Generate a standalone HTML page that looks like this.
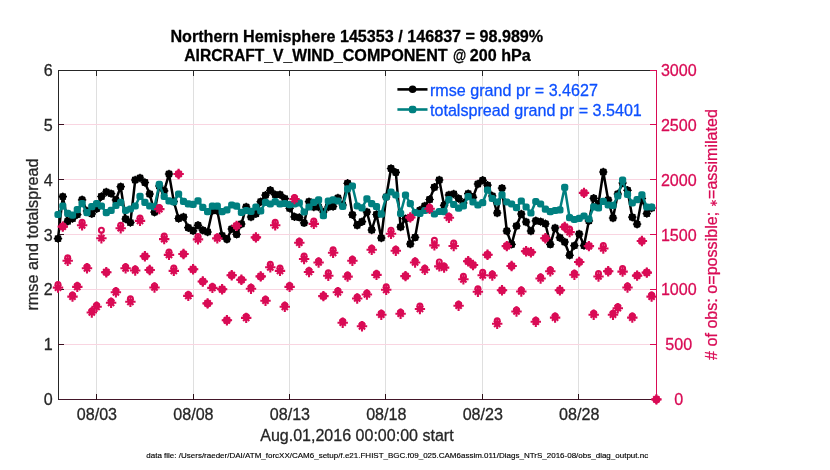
<!DOCTYPE html>
<html><head><meta charset="utf-8"><title>AIRCRAFT_V_WIND_COMPONENT</title>
<style>html,body{margin:0;padding:0;background:#fff}svg{display:block}text{font-family:"Liberation Sans","DejaVu Sans",sans-serif;font-size:16.12px;stroke-width:.28px;stroke-linejoin:round}.d{fill:#262626;stroke:#262626}.p{fill:#d90b55;stroke:#d90b55}.b{fill:#0d50ff;stroke:#0d50ff}.k{fill:#000;stroke:#000}</style></head><body>
<svg width="830" height="470" viewBox="0 0 830 470">
<rect width="830" height="470" fill="#fff"/>
<g shape-rendering="crispEdges" stroke-width="1">
<line x1="96.5" y1="70.5" x2="96.5" y2="399.5" stroke="#dfdfdf"/>
<line x1="193.5" y1="70.5" x2="193.5" y2="399.5" stroke="#dfdfdf"/>
<line x1="289.5" y1="70.5" x2="289.5" y2="399.5" stroke="#dfdfdf"/>
<line x1="385.5" y1="70.5" x2="385.5" y2="399.5" stroke="#dfdfdf"/>
<line x1="482.5" y1="70.5" x2="482.5" y2="399.5" stroke="#dfdfdf"/>
<line x1="578.5" y1="70.5" x2="578.5" y2="399.5" stroke="#dfdfdf"/>
<line x1="58.5" y1="124.5" x2="656.5" y2="124.5" stroke="#f9d5e1"/>
<line x1="58.5" y1="179.5" x2="656.5" y2="179.5" stroke="#f9d5e1"/>
<line x1="58.5" y1="234.5" x2="656.5" y2="234.5" stroke="#f9d5e1"/>
<line x1="58.5" y1="289.5" x2="656.5" y2="289.5" stroke="#f9d5e1"/>
<line x1="58.5" y1="344.5" x2="656.5" y2="344.5" stroke="#f9d5e1"/>
<line x1="58.5" y1="70.0" x2="58.5" y2="400.0" stroke="#262626"/>
<line x1="58.5" y1="70.5" x2="656.5" y2="70.5" stroke="#262626"/>
<line x1="58.5" y1="399.5" x2="656.5" y2="399.5" stroke="#431629"/>
<rect x="96.0" y="70" width="1" height="6" fill="#262626"/>
<rect x="96.0" y="394" width="1" height="6" fill="#2a1018"/>
<rect x="193.0" y="70" width="1" height="6" fill="#262626"/>
<rect x="193.0" y="394" width="1" height="6" fill="#2a1018"/>
<rect x="289.0" y="70" width="1" height="6" fill="#262626"/>
<rect x="289.0" y="394" width="1" height="6" fill="#2a1018"/>
<rect x="385.0" y="70" width="1" height="6" fill="#262626"/>
<rect x="385.0" y="394" width="1" height="6" fill="#2a1018"/>
<rect x="482.0" y="70" width="1" height="6" fill="#262626"/>
<rect x="482.0" y="394" width="1" height="6" fill="#2a1018"/>
<rect x="578.0" y="70" width="1" height="6" fill="#262626"/>
<rect x="578.0" y="394" width="1" height="6" fill="#2a1018"/>
<rect x="58" y="124.0" width="6" height="1" fill="#3a0f20"/>
<rect x="58" y="179.0" width="6" height="1" fill="#3a0f20"/>
<rect x="58" y="234.0" width="6" height="1" fill="#3a0f20"/>
<rect x="58" y="289.0" width="6" height="1" fill="#3a0f20"/>
<rect x="58" y="344.0" width="6" height="1" fill="#3a0f20"/>
<line x1="656.5" y1="70.0" x2="656.5" y2="400.0" stroke="#d90b55"/>
<rect x="650" y="70.0" width="7" height="1" fill="#d90b55"/>
<rect x="650" y="124.0" width="7" height="1" fill="#d90b55"/>
<rect x="650" y="179.0" width="7" height="1" fill="#d90b55"/>
<rect x="650" y="234.0" width="7" height="1" fill="#d90b55"/>
<rect x="650" y="289.0" width="7" height="1" fill="#d90b55"/>
<rect x="650" y="344.0" width="7" height="1" fill="#d90b55"/>
</g>
<g fill="none" stroke="#000" stroke-width="2.5" stroke-linejoin="round"><path d="M58.0,238.6 L62.8,196.6 L67.7,221.3 L72.5,218.6 L77.3,214.6 L82.1,199.8 L87.0,211.0 L91.8,213.8 L96.6,208.7 L101.4,196.5 L106.3,192.0 L111.1,193.6 L115.9,200.0 L120.7,186.7 L125.6,219.0 L130.4,222.6 L135.2,180.0 L140.0,178.0 L144.9,182.5 L149.7,194.0 L154.5,212.2 L159.3,186.0 L164.2,190.8 L169.0,174.0 L173.8,201.5 L178.6,218.5 L183.5,217.0 L188.3,227.7 L193.1,230.8 L198.0,225.3 L202.8,230.2 L207.6,232.0 L212.4,210.8 L217.3,210.8 L222.1,235.6 L226.9,239.2 L231.7,229.0 L236.6,234.4 L241.4,224.0 L246.2,207.0 L251.0,217.0 L255.9,213.8 L260.7,201.7 L265.5,195.2 L270.3,190.3 L275.2,194.6 L280.0,194.6 L284.8,198.6 L289.6,208.3 L294.5,216.8 L299.3,217.4 L304.1,222.9 L309.0,201.7 L313.8,207.0 L318.6,207.0 L323.4,212.0 L328.3,207.0 L333.1,206.5 L337.9,198.0 L342.7,205.0 L347.6,183.3 L352.4,214.8 L357.2,225.3 L362.0,221.7 L366.9,212.0 L371.7,230.0 L376.5,214.5 L381.3,238.0 L386.2,197.0 L391.0,168.5 L395.8,172.4 L400.6,227.0 L405.5,218.6 L410.3,244.0 L415.1,237.4 L419.9,210.3 L424.8,206.0 L429.6,199.5 L434.4,187.3 L439.3,180.0 L444.1,205.4 L448.9,195.0 L453.7,194.0 L458.6,198.5 L463.4,203.0 L468.2,193.6 L473.0,197.3 L477.9,184.0 L482.7,180.3 L487.5,185.2 L492.3,196.0 L497.2,213.0 L502.0,188.2 L506.8,231.0 L511.6,244.4 L516.5,226.0 L521.3,214.0 L526.1,222.0 L530.9,231.0 L535.8,220.8 L540.6,221.6 L545.4,223.8 L550.3,244.4 L555.1,228.0 L559.9,237.7 L564.7,242.0 L569.6,255.3 L574.4,245.6 L579.2,234.0 L584.0,245.6 L588.9,220.8 L593.7,198.3 L598.5,203.8 L603.3,172.0 L608.2,200.0 L613.0,218.0 L617.8,194.0 L622.6,183.0 L627.5,190.3 L632.3,217.2 L637.1,224.2 L641.9,198.5 L646.8,213.6 L651.6,208.0"/></g>
<g fill="#000" stroke="#000" stroke-width="1.2"><circle cx="58.0" cy="238.6" r="3.1"/><circle cx="62.8" cy="196.6" r="3.1"/><circle cx="67.7" cy="221.3" r="3.1"/><circle cx="72.5" cy="218.6" r="3.1"/><circle cx="77.3" cy="214.6" r="3.1"/><circle cx="82.1" cy="199.8" r="3.1"/><circle cx="87.0" cy="211.0" r="3.1"/><circle cx="91.8" cy="213.8" r="3.1"/><circle cx="96.6" cy="208.7" r="3.1"/><circle cx="101.4" cy="196.5" r="3.1"/><circle cx="106.3" cy="192.0" r="3.1"/><circle cx="111.1" cy="193.6" r="3.1"/><circle cx="115.9" cy="200.0" r="3.1"/><circle cx="120.7" cy="186.7" r="3.1"/><circle cx="125.6" cy="219.0" r="3.1"/><circle cx="130.4" cy="222.6" r="3.1"/><circle cx="135.2" cy="180.0" r="3.1"/><circle cx="140.0" cy="178.0" r="3.1"/><circle cx="144.9" cy="182.5" r="3.1"/><circle cx="149.7" cy="194.0" r="3.1"/><circle cx="154.5" cy="212.2" r="3.1"/><circle cx="159.3" cy="186.0" r="3.1"/><circle cx="164.2" cy="190.8" r="3.1"/><circle cx="169.0" cy="174.0" r="3.1"/><circle cx="173.8" cy="201.5" r="3.1"/><circle cx="178.6" cy="218.5" r="3.1"/><circle cx="183.5" cy="217.0" r="3.1"/><circle cx="188.3" cy="227.7" r="3.1"/><circle cx="193.1" cy="230.8" r="3.1"/><circle cx="198.0" cy="225.3" r="3.1"/><circle cx="202.8" cy="230.2" r="3.1"/><circle cx="207.6" cy="232.0" r="3.1"/><circle cx="212.4" cy="210.8" r="3.1"/><circle cx="217.3" cy="210.8" r="3.1"/><circle cx="222.1" cy="235.6" r="3.1"/><circle cx="226.9" cy="239.2" r="3.1"/><circle cx="231.7" cy="229.0" r="3.1"/><circle cx="236.6" cy="234.4" r="3.1"/><circle cx="241.4" cy="224.0" r="3.1"/><circle cx="246.2" cy="207.0" r="3.1"/><circle cx="251.0" cy="217.0" r="3.1"/><circle cx="255.9" cy="213.8" r="3.1"/><circle cx="260.7" cy="201.7" r="3.1"/><circle cx="265.5" cy="195.2" r="3.1"/><circle cx="270.3" cy="190.3" r="3.1"/><circle cx="275.2" cy="194.6" r="3.1"/><circle cx="280.0" cy="194.6" r="3.1"/><circle cx="284.8" cy="198.6" r="3.1"/><circle cx="289.6" cy="208.3" r="3.1"/><circle cx="294.5" cy="216.8" r="3.1"/><circle cx="299.3" cy="217.4" r="3.1"/><circle cx="304.1" cy="222.9" r="3.1"/><circle cx="309.0" cy="201.7" r="3.1"/><circle cx="313.8" cy="207.0" r="3.1"/><circle cx="318.6" cy="207.0" r="3.1"/><circle cx="323.4" cy="212.0" r="3.1"/><circle cx="328.3" cy="207.0" r="3.1"/><circle cx="333.1" cy="206.5" r="3.1"/><circle cx="337.9" cy="198.0" r="3.1"/><circle cx="342.7" cy="205.0" r="3.1"/><circle cx="347.6" cy="183.3" r="3.1"/><circle cx="352.4" cy="214.8" r="3.1"/><circle cx="357.2" cy="225.3" r="3.1"/><circle cx="362.0" cy="221.7" r="3.1"/><circle cx="366.9" cy="212.0" r="3.1"/><circle cx="371.7" cy="230.0" r="3.1"/><circle cx="376.5" cy="214.5" r="3.1"/><circle cx="381.3" cy="238.0" r="3.1"/><circle cx="386.2" cy="197.0" r="3.1"/><circle cx="391.0" cy="168.5" r="3.1"/><circle cx="395.8" cy="172.4" r="3.1"/><circle cx="400.6" cy="227.0" r="3.1"/><circle cx="405.5" cy="218.6" r="3.1"/><circle cx="410.3" cy="244.0" r="3.1"/><circle cx="415.1" cy="237.4" r="3.1"/><circle cx="419.9" cy="210.3" r="3.1"/><circle cx="424.8" cy="206.0" r="3.1"/><circle cx="429.6" cy="199.5" r="3.1"/><circle cx="434.4" cy="187.3" r="3.1"/><circle cx="439.3" cy="180.0" r="3.1"/><circle cx="444.1" cy="205.4" r="3.1"/><circle cx="448.9" cy="195.0" r="3.1"/><circle cx="453.7" cy="194.0" r="3.1"/><circle cx="458.6" cy="198.5" r="3.1"/><circle cx="463.4" cy="203.0" r="3.1"/><circle cx="468.2" cy="193.6" r="3.1"/><circle cx="473.0" cy="197.3" r="3.1"/><circle cx="477.9" cy="184.0" r="3.1"/><circle cx="482.7" cy="180.3" r="3.1"/><circle cx="487.5" cy="185.2" r="3.1"/><circle cx="492.3" cy="196.0" r="3.1"/><circle cx="497.2" cy="213.0" r="3.1"/><circle cx="502.0" cy="188.2" r="3.1"/><circle cx="506.8" cy="231.0" r="3.1"/><circle cx="511.6" cy="244.4" r="3.1"/><circle cx="516.5" cy="226.0" r="3.1"/><circle cx="521.3" cy="214.0" r="3.1"/><circle cx="526.1" cy="222.0" r="3.1"/><circle cx="530.9" cy="231.0" r="3.1"/><circle cx="535.8" cy="220.8" r="3.1"/><circle cx="540.6" cy="221.6" r="3.1"/><circle cx="545.4" cy="223.8" r="3.1"/><circle cx="550.3" cy="244.4" r="3.1"/><circle cx="555.1" cy="228.0" r="3.1"/><circle cx="559.9" cy="237.7" r="3.1"/><circle cx="564.7" cy="242.0" r="3.1"/><circle cx="569.6" cy="255.3" r="3.1"/><circle cx="574.4" cy="245.6" r="3.1"/><circle cx="579.2" cy="234.0" r="3.1"/><circle cx="584.0" cy="245.6" r="3.1"/><circle cx="588.9" cy="220.8" r="3.1"/><circle cx="593.7" cy="198.3" r="3.1"/><circle cx="598.5" cy="203.8" r="3.1"/><circle cx="603.3" cy="172.0" r="3.1"/><circle cx="608.2" cy="200.0" r="3.1"/><circle cx="613.0" cy="218.0" r="3.1"/><circle cx="617.8" cy="194.0" r="3.1"/><circle cx="622.6" cy="183.0" r="3.1"/><circle cx="627.5" cy="190.3" r="3.1"/><circle cx="632.3" cy="217.2" r="3.1"/><circle cx="637.1" cy="224.2" r="3.1"/><circle cx="641.9" cy="198.5" r="3.1"/><circle cx="646.8" cy="213.6" r="3.1"/><circle cx="651.6" cy="208.0" r="3.1"/><path d="M53.8,238.6H62.2M58.0,234.4V242.8M55.0,235.6L61.0,241.6M55.0,241.6L61.0,235.6M58.6,196.6H67.0M62.8,192.4V200.8M59.8,193.6L65.8,199.6M59.8,199.6L65.8,193.6M63.5,221.3H71.9M67.7,217.1V225.5M64.7,218.3L70.7,224.3M64.7,224.3L70.7,218.3M68.3,218.6H76.7M72.5,214.4V222.8M69.5,215.6L75.5,221.6M69.5,221.6L75.5,215.6M73.1,214.6H81.5M77.3,210.4V218.8M74.3,211.6L80.3,217.6M74.3,217.6L80.3,211.6M77.9,199.8H86.3M82.1,195.6V204.0M79.1,196.8L85.1,202.8M79.1,202.8L85.1,196.8M82.8,211.0H91.2M87.0,206.8V215.2M84.0,208.0L90.0,214.0M84.0,214.0L90.0,208.0M87.6,213.8H96.0M91.8,209.6V218.0M88.8,210.8L94.8,216.8M88.8,216.8L94.8,210.8M92.4,208.7H100.8M96.6,204.5V212.9M93.6,205.7L99.6,211.7M93.6,211.7L99.6,205.7M97.2,196.5H105.6M101.4,192.3V200.7M98.4,193.5L104.4,199.5M98.4,199.5L104.4,193.5M102.1,192.0H110.5M106.3,187.8V196.2M103.3,189.0L109.3,195.0M103.3,195.0L109.3,189.0M106.9,193.6H115.3M111.1,189.4V197.8M108.1,190.6L114.1,196.6M108.1,196.6L114.1,190.6M111.7,200.0H120.1M115.9,195.8V204.2M112.9,197.0L118.9,203.0M112.9,203.0L118.9,197.0M116.5,186.7H124.9M120.7,182.5V190.9M117.7,183.7L123.7,189.7M117.7,189.7L123.7,183.7M121.4,219.0H129.8M125.6,214.8V223.2M122.6,216.0L128.6,222.0M122.6,222.0L128.6,216.0M126.2,222.6H134.6M130.4,218.4V226.8M127.4,219.6L133.4,225.6M127.4,225.6L133.4,219.6M131.0,180.0H139.4M135.2,175.8V184.2M132.2,177.0L138.2,183.0M132.2,183.0L138.2,177.0M135.8,178.0H144.2M140.0,173.8V182.2M137.0,175.0L143.0,181.0M137.0,181.0L143.0,175.0M140.7,182.5H149.1M144.9,178.3V186.7M141.9,179.5L147.9,185.5M141.9,185.5L147.9,179.5M145.5,194.0H153.9M149.7,189.8V198.2M146.7,191.0L152.7,197.0M146.7,197.0L152.7,191.0M150.3,212.2H158.7M154.5,208.0V216.4M151.5,209.2L157.5,215.2M151.5,215.2L157.5,209.2M155.1,186.0H163.5M159.3,181.8V190.2M156.3,183.0L162.3,189.0M156.3,189.0L162.3,183.0M160.0,190.8H168.4M164.2,186.6V195.0M161.2,187.8L167.2,193.8M161.2,193.8L167.2,187.8M164.8,174.0H173.2M169.0,169.8V178.2M166.0,171.0L172.0,177.0M166.0,177.0L172.0,171.0M169.6,201.5H178.0M173.8,197.3V205.7M170.8,198.5L176.8,204.5M170.8,204.5L176.8,198.5M174.4,218.5H182.8M178.6,214.3V222.7M175.6,215.5L181.6,221.5M175.6,221.5L181.6,215.5M179.3,217.0H187.7M183.5,212.8V221.2M180.5,214.0L186.5,220.0M180.5,220.0L186.5,214.0M184.1,227.7H192.5M188.3,223.5V231.9M185.3,224.7L191.3,230.7M185.3,230.7L191.3,224.7M188.9,230.8H197.3M193.1,226.6V235.0M190.1,227.8L196.1,233.8M190.1,233.8L196.1,227.8M193.8,225.3H202.2M198.0,221.1V229.5M195.0,222.3L201.0,228.3M195.0,228.3L201.0,222.3M198.6,230.2H207.0M202.8,226.0V234.4M199.8,227.2L205.8,233.2M199.8,233.2L205.8,227.2M203.4,232.0H211.8M207.6,227.8V236.2M204.6,229.0L210.6,235.0M204.6,235.0L210.6,229.0M208.2,210.8H216.6M212.4,206.6V215.0M209.4,207.8L215.4,213.8M209.4,213.8L215.4,207.8M213.1,210.8H221.5M217.3,206.6V215.0M214.3,207.8L220.3,213.8M214.3,213.8L220.3,207.8M217.9,235.6H226.3M222.1,231.4V239.8M219.1,232.6L225.1,238.6M219.1,238.6L225.1,232.6M222.7,239.2H231.1M226.9,235.0V243.4M223.9,236.2L229.9,242.2M223.9,242.2L229.9,236.2M227.5,229.0H235.9M231.7,224.8V233.2M228.7,226.0L234.7,232.0M228.7,232.0L234.7,226.0M232.4,234.4H240.8M236.6,230.2V238.6M233.6,231.4L239.6,237.4M233.6,237.4L239.6,231.4M237.2,224.0H245.6M241.4,219.8V228.2M238.4,221.0L244.4,227.0M238.4,227.0L244.4,221.0M242.0,207.0H250.4M246.2,202.8V211.2M243.2,204.0L249.2,210.0M243.2,210.0L249.2,204.0M246.8,217.0H255.2M251.0,212.8V221.2M248.0,214.0L254.0,220.0M248.0,220.0L254.0,214.0M251.7,213.8H260.1M255.9,209.6V218.0M252.9,210.8L258.9,216.8M252.9,216.8L258.9,210.8M256.5,201.7H264.9M260.7,197.5V205.9M257.7,198.7L263.7,204.7M257.7,204.7L263.7,198.7M261.3,195.2H269.7M265.5,191.0V199.4M262.5,192.2L268.5,198.2M262.5,198.2L268.5,192.2M266.1,190.3H274.5M270.3,186.1V194.5M267.3,187.3L273.3,193.3M267.3,193.3L273.3,187.3M271.0,194.6H279.4M275.2,190.4V198.8M272.2,191.6L278.2,197.6M272.2,197.6L278.2,191.6M275.8,194.6H284.2M280.0,190.4V198.8M277.0,191.6L283.0,197.6M277.0,197.6L283.0,191.6M280.6,198.6H289.0M284.8,194.4V202.8M281.8,195.6L287.8,201.6M281.8,201.6L287.8,195.6M285.4,208.3H293.8M289.6,204.1V212.5M286.6,205.3L292.6,211.3M286.6,211.3L292.6,205.3M290.3,216.8H298.7M294.5,212.6V221.0M291.5,213.8L297.5,219.8M291.5,219.8L297.5,213.8M295.1,217.4H303.5M299.3,213.2V221.6M296.3,214.4L302.3,220.4M296.3,220.4L302.3,214.4M299.9,222.9H308.3M304.1,218.7V227.1M301.1,219.9L307.1,225.9M301.1,225.9L307.1,219.9M304.8,201.7H313.2M309.0,197.5V205.9M306.0,198.7L312.0,204.7M306.0,204.7L312.0,198.7M309.6,207.0H318.0M313.8,202.8V211.2M310.8,204.0L316.8,210.0M310.8,210.0L316.8,204.0M314.4,207.0H322.8M318.6,202.8V211.2M315.6,204.0L321.6,210.0M315.6,210.0L321.6,204.0M319.2,212.0H327.6M323.4,207.8V216.2M320.4,209.0L326.4,215.0M320.4,215.0L326.4,209.0M324.1,207.0H332.5M328.3,202.8V211.2M325.3,204.0L331.3,210.0M325.3,210.0L331.3,204.0M328.9,206.5H337.3M333.1,202.3V210.7M330.1,203.5L336.1,209.5M330.1,209.5L336.1,203.5M333.7,198.0H342.1M337.9,193.8V202.2M334.9,195.0L340.9,201.0M334.9,201.0L340.9,195.0M338.5,205.0H346.9M342.7,200.8V209.2M339.7,202.0L345.7,208.0M339.7,208.0L345.7,202.0M343.4,183.3H351.8M347.6,179.1V187.5M344.6,180.3L350.6,186.3M344.6,186.3L350.6,180.3M348.2,214.8H356.6M352.4,210.6V219.0M349.4,211.8L355.4,217.8M349.4,217.8L355.4,211.8M353.0,225.3H361.4M357.2,221.1V229.5M354.2,222.3L360.2,228.3M354.2,228.3L360.2,222.3M357.8,221.7H366.2M362.0,217.5V225.9M359.0,218.7L365.0,224.7M359.0,224.7L365.0,218.7M362.7,212.0H371.1M366.9,207.8V216.2M363.9,209.0L369.9,215.0M363.9,215.0L369.9,209.0M367.5,230.0H375.9M371.7,225.8V234.2M368.7,227.0L374.7,233.0M368.7,233.0L374.7,227.0M372.3,214.5H380.7M376.5,210.3V218.7M373.5,211.5L379.5,217.5M373.5,217.5L379.5,211.5M377.1,238.0H385.5M381.3,233.8V242.2M378.3,235.0L384.3,241.0M378.3,241.0L384.3,235.0M382.0,197.0H390.4M386.2,192.8V201.2M383.2,194.0L389.2,200.0M383.2,200.0L389.2,194.0M386.8,168.5H395.2M391.0,164.3V172.7M388.0,165.5L394.0,171.5M388.0,171.5L394.0,165.5M391.6,172.4H400.0M395.8,168.2V176.6M392.8,169.4L398.8,175.4M392.8,175.4L398.8,169.4M396.4,227.0H404.8M400.6,222.8V231.2M397.6,224.0L403.6,230.0M397.6,230.0L403.6,224.0M401.3,218.6H409.7M405.5,214.4V222.8M402.5,215.6L408.5,221.6M402.5,221.6L408.5,215.6M406.1,244.0H414.5M410.3,239.8V248.2M407.3,241.0L413.3,247.0M407.3,247.0L413.3,241.0M410.9,237.4H419.3M415.1,233.2V241.6M412.1,234.4L418.1,240.4M412.1,240.4L418.1,234.4M415.8,210.3H424.1M419.9,206.1V214.5M416.9,207.3L422.9,213.3M416.9,213.3L422.9,207.3M420.6,206.0H429.0M424.8,201.8V210.2M421.8,203.0L427.8,209.0M421.8,209.0L427.8,203.0M425.4,199.5H433.8M429.6,195.3V203.7M426.6,196.5L432.6,202.5M426.6,202.5L432.6,196.5M430.2,187.3H438.6M434.4,183.1V191.5M431.4,184.3L437.4,190.3M431.4,190.3L437.4,184.3M435.1,180.0H443.5M439.3,175.8V184.2M436.3,177.0L442.3,183.0M436.3,183.0L442.3,177.0M439.9,205.4H448.3M444.1,201.2V209.6M441.1,202.4L447.1,208.4M441.1,208.4L447.1,202.4M444.7,195.0H453.1M448.9,190.8V199.2M445.9,192.0L451.9,198.0M445.9,198.0L451.9,192.0M449.5,194.0H457.9M453.7,189.8V198.2M450.7,191.0L456.7,197.0M450.7,197.0L456.7,191.0M454.4,198.5H462.8M458.6,194.3V202.7M455.6,195.5L461.6,201.5M455.6,201.5L461.6,195.5M459.2,203.0H467.6M463.4,198.8V207.2M460.4,200.0L466.4,206.0M460.4,206.0L466.4,200.0M464.0,193.6H472.4M468.2,189.4V197.8M465.2,190.6L471.2,196.6M465.2,196.6L471.2,190.6M468.8,197.3H477.2M473.0,193.1V201.5M470.0,194.3L476.0,200.3M470.0,200.3L476.0,194.3M473.7,184.0H482.1M477.9,179.8V188.2M474.9,181.0L480.9,187.0M474.9,187.0L480.9,181.0M478.5,180.3H486.9M482.7,176.1V184.5M479.7,177.3L485.7,183.3M479.7,183.3L485.7,177.3M483.3,185.2H491.7M487.5,181.0V189.4M484.5,182.2L490.5,188.2M484.5,188.2L490.5,182.2M488.1,196.0H496.5M492.3,191.8V200.2M489.3,193.0L495.3,199.0M489.3,199.0L495.3,193.0M493.0,213.0H501.4M497.2,208.8V217.2M494.2,210.0L500.2,216.0M494.2,216.0L500.2,210.0M497.8,188.2H506.2M502.0,184.0V192.4M499.0,185.2L505.0,191.2M499.0,191.2L505.0,185.2M502.6,231.0H511.0M506.8,226.8V235.2M503.8,228.0L509.8,234.0M503.8,234.0L509.8,228.0M507.4,244.4H515.8M511.6,240.2V248.6M508.6,241.4L514.6,247.4M508.6,247.4L514.6,241.4M512.3,226.0H520.7M516.5,221.8V230.2M513.5,223.0L519.5,229.0M513.5,229.0L519.5,223.0M517.1,214.0H525.5M521.3,209.8V218.2M518.3,211.0L524.3,217.0M518.3,217.0L524.3,211.0M521.9,222.0H530.3M526.1,217.8V226.2M523.1,219.0L529.1,225.0M523.1,225.0L529.1,219.0M526.7,231.0H535.1M530.9,226.8V235.2M527.9,228.0L533.9,234.0M527.9,234.0L533.9,228.0M531.6,220.8H540.0M535.8,216.6V225.0M532.8,217.8L538.8,223.8M532.8,223.8L538.8,217.8M536.4,221.6H544.8M540.6,217.4V225.8M537.6,218.6L543.6,224.6M537.6,224.6L543.6,218.6M541.2,223.8H549.6M545.4,219.6V228.0M542.4,220.8L548.4,226.8M542.4,226.8L548.4,220.8M546.1,244.4H554.5M550.3,240.2V248.6M547.3,241.4L553.3,247.4M547.3,247.4L553.3,241.4M550.9,228.0H559.3M555.1,223.8V232.2M552.1,225.0L558.1,231.0M552.1,231.0L558.1,225.0M555.7,237.7H564.1M559.9,233.5V241.9M556.9,234.7L562.9,240.7M556.9,240.7L562.9,234.7M560.5,242.0H568.9M564.7,237.8V246.2M561.7,239.0L567.7,245.0M561.7,245.0L567.7,239.0M565.4,255.3H573.8M569.6,251.1V259.5M566.6,252.3L572.6,258.3M566.6,258.3L572.6,252.3M570.2,245.6H578.6M574.4,241.4V249.8M571.4,242.6L577.4,248.6M571.4,248.6L577.4,242.6M575.0,234.0H583.4M579.2,229.8V238.2M576.2,231.0L582.2,237.0M576.2,237.0L582.2,231.0M579.8,245.6H588.2M584.0,241.4V249.8M581.0,242.6L587.0,248.6M581.0,248.6L587.0,242.6M584.7,220.8H593.1M588.9,216.6V225.0M585.9,217.8L591.9,223.8M585.9,223.8L591.9,217.8M589.5,198.3H597.9M593.7,194.1V202.5M590.7,195.3L596.7,201.3M590.7,201.3L596.7,195.3M594.3,203.8H602.7M598.5,199.6V208.0M595.5,200.8L601.5,206.8M595.5,206.8L601.5,200.8M599.1,172.0H607.5M603.3,167.8V176.2M600.3,169.0L606.3,175.0M600.3,175.0L606.3,169.0M604.0,200.0H612.4M608.2,195.8V204.2M605.2,197.0L611.2,203.0M605.2,203.0L611.2,197.0M608.8,218.0H617.2M613.0,213.8V222.2M610.0,215.0L616.0,221.0M610.0,221.0L616.0,215.0M613.6,194.0H622.0M617.8,189.8V198.2M614.8,191.0L620.8,197.0M614.8,197.0L620.8,191.0M618.4,183.0H626.8M622.6,178.8V187.2M619.6,180.0L625.6,186.0M619.6,186.0L625.6,180.0M623.3,190.3H631.7M627.5,186.1V194.5M624.5,187.3L630.5,193.3M624.5,193.3L630.5,187.3M628.1,217.2H636.5M632.3,213.0V221.4M629.3,214.2L635.3,220.2M629.3,220.2L635.3,214.2M632.9,224.2H641.3M637.1,220.0V228.4M634.1,221.2L640.1,227.2M634.1,227.2L640.1,221.2M637.7,198.5H646.1M641.9,194.3V202.7M638.9,195.5L644.9,201.5M638.9,201.5L644.9,195.5M642.6,213.6H651.0M646.8,209.4V217.8M643.8,210.6L649.8,216.6M643.8,216.6L649.8,210.6M647.4,208.0H655.8M651.6,203.8V212.2M648.6,205.0L654.6,211.0M648.6,211.0L654.6,205.0"/></g>
<g fill="none" stroke="#008080" stroke-width="2.5" stroke-linejoin="round"><path d="M58.0,214.5 L62.8,206.0 L67.7,213.3 L72.5,215.2 L77.3,209.7 L82.1,203.6 L87.0,212.7 L91.8,206.7 L96.6,203.6 L101.4,206.0 L106.3,212.7 L111.1,210.3 L115.9,205.5 L120.7,202.4 L125.6,210.3 L130.4,209.0 L135.2,206.0 L140.0,196.4 L144.9,202.4 L149.7,206.0 L154.5,206.8 L159.3,184.4 L164.2,196.5 L169.0,200.8 L173.8,202.0 L178.6,194.0 L183.5,201.4 L188.3,203.8 L193.1,204.4 L198.0,200.8 L202.8,207.4 L207.6,211.7 L212.4,206.2 L217.3,206.2 L222.1,211.7 L226.9,209.8 L231.7,205.0 L236.6,206.2 L241.4,212.3 L246.2,210.5 L251.0,211.4 L255.9,207.0 L260.7,210.8 L265.5,202.3 L270.3,204.0 L275.2,201.7 L280.0,204.0 L284.8,203.5 L289.6,204.7 L294.5,204.0 L299.3,202.9 L304.1,212.0 L309.0,207.0 L313.8,202.3 L318.6,199.8 L323.4,215.6 L328.3,201.0 L333.1,199.8 L337.9,201.0 L342.7,206.5 L347.6,188.8 L352.4,186.0 L357.2,206.0 L362.0,207.9 L366.9,198.8 L371.7,203.6 L376.5,206.7 L381.3,214.2 L386.2,197.0 L391.0,192.0 L395.8,195.0 L400.6,213.3 L405.5,195.0 L410.3,203.6 L415.1,212.5 L419.9,213.5 L424.8,210.5 L429.6,209.5 L434.4,214.0 L439.3,211.5 L444.1,211.6 L448.9,199.7 L453.7,204.5 L458.6,208.2 L463.4,205.8 L468.2,196.7 L473.0,202.0 L477.9,205.0 L482.7,202.7 L487.5,190.0 L492.3,198.5 L497.2,202.0 L502.0,194.8 L506.8,202.0 L511.6,204.0 L516.5,207.6 L521.3,201.0 L526.1,207.0 L530.9,213.0 L535.8,201.5 L540.6,204.0 L545.4,209.2 L550.3,211.7 L555.1,210.5 L559.9,209.8 L564.7,187.3 L569.6,217.7 L574.4,219.5 L579.2,218.3 L584.0,216.0 L588.9,219.0 L593.7,206.8 L598.5,208.0 L603.3,201.4 L608.2,205.0 L613.0,205.4 L617.8,196.0 L622.6,180.2 L627.5,194.4 L632.3,203.0 L637.1,199.7 L641.9,194.8 L646.8,207.0 L651.6,207.0"/></g>
<g fill="#008080" stroke="none"><rect x="54.4" y="210.9" width="7.2" height="7.2" rx="2.5"/><rect x="59.2" y="202.4" width="7.2" height="7.2" rx="2.5"/><rect x="64.1" y="209.7" width="7.2" height="7.2" rx="2.5"/><rect x="68.9" y="211.6" width="7.2" height="7.2" rx="2.5"/><rect x="73.7" y="206.1" width="7.2" height="7.2" rx="2.5"/><rect x="78.5" y="200.0" width="7.2" height="7.2" rx="2.5"/><rect x="83.4" y="209.1" width="7.2" height="7.2" rx="2.5"/><rect x="88.2" y="203.1" width="7.2" height="7.2" rx="2.5"/><rect x="93.0" y="200.0" width="7.2" height="7.2" rx="2.5"/><rect x="97.8" y="202.4" width="7.2" height="7.2" rx="2.5"/><rect x="102.7" y="209.1" width="7.2" height="7.2" rx="2.5"/><rect x="107.5" y="206.7" width="7.2" height="7.2" rx="2.5"/><rect x="112.3" y="201.9" width="7.2" height="7.2" rx="2.5"/><rect x="117.1" y="198.8" width="7.2" height="7.2" rx="2.5"/><rect x="122.0" y="206.7" width="7.2" height="7.2" rx="2.5"/><rect x="126.8" y="205.4" width="7.2" height="7.2" rx="2.5"/><rect x="131.6" y="202.4" width="7.2" height="7.2" rx="2.5"/><rect x="136.4" y="192.8" width="7.2" height="7.2" rx="2.5"/><rect x="141.3" y="198.8" width="7.2" height="7.2" rx="2.5"/><rect x="146.1" y="202.4" width="7.2" height="7.2" rx="2.5"/><rect x="150.9" y="203.2" width="7.2" height="7.2" rx="2.5"/><rect x="155.7" y="180.8" width="7.2" height="7.2" rx="2.5"/><rect x="160.6" y="192.9" width="7.2" height="7.2" rx="2.5"/><rect x="165.4" y="197.2" width="7.2" height="7.2" rx="2.5"/><rect x="170.2" y="198.4" width="7.2" height="7.2" rx="2.5"/><rect x="175.0" y="190.4" width="7.2" height="7.2" rx="2.5"/><rect x="179.9" y="197.8" width="7.2" height="7.2" rx="2.5"/><rect x="184.7" y="200.2" width="7.2" height="7.2" rx="2.5"/><rect x="189.5" y="200.8" width="7.2" height="7.2" rx="2.5"/><rect x="194.4" y="197.2" width="7.2" height="7.2" rx="2.5"/><rect x="199.2" y="203.8" width="7.2" height="7.2" rx="2.5"/><rect x="204.0" y="208.1" width="7.2" height="7.2" rx="2.5"/><rect x="208.8" y="202.6" width="7.2" height="7.2" rx="2.5"/><rect x="213.7" y="202.6" width="7.2" height="7.2" rx="2.5"/><rect x="218.5" y="208.1" width="7.2" height="7.2" rx="2.5"/><rect x="223.3" y="206.2" width="7.2" height="7.2" rx="2.5"/><rect x="228.1" y="201.4" width="7.2" height="7.2" rx="2.5"/><rect x="233.0" y="202.6" width="7.2" height="7.2" rx="2.5"/><rect x="237.8" y="208.7" width="7.2" height="7.2" rx="2.5"/><rect x="242.6" y="206.9" width="7.2" height="7.2" rx="2.5"/><rect x="247.4" y="207.8" width="7.2" height="7.2" rx="2.5"/><rect x="252.3" y="203.4" width="7.2" height="7.2" rx="2.5"/><rect x="257.1" y="207.2" width="7.2" height="7.2" rx="2.5"/><rect x="261.9" y="198.7" width="7.2" height="7.2" rx="2.5"/><rect x="266.7" y="200.4" width="7.2" height="7.2" rx="2.5"/><rect x="271.6" y="198.1" width="7.2" height="7.2" rx="2.5"/><rect x="276.4" y="200.4" width="7.2" height="7.2" rx="2.5"/><rect x="281.2" y="199.9" width="7.2" height="7.2" rx="2.5"/><rect x="286.0" y="201.1" width="7.2" height="7.2" rx="2.5"/><rect x="290.9" y="200.4" width="7.2" height="7.2" rx="2.5"/><rect x="295.7" y="199.3" width="7.2" height="7.2" rx="2.5"/><rect x="300.5" y="208.4" width="7.2" height="7.2" rx="2.5"/><rect x="305.4" y="203.4" width="7.2" height="7.2" rx="2.5"/><rect x="310.2" y="198.7" width="7.2" height="7.2" rx="2.5"/><rect x="315.0" y="196.2" width="7.2" height="7.2" rx="2.5"/><rect x="319.8" y="212.0" width="7.2" height="7.2" rx="2.5"/><rect x="324.7" y="197.4" width="7.2" height="7.2" rx="2.5"/><rect x="329.5" y="196.2" width="7.2" height="7.2" rx="2.5"/><rect x="334.3" y="197.4" width="7.2" height="7.2" rx="2.5"/><rect x="339.1" y="202.9" width="7.2" height="7.2" rx="2.5"/><rect x="344.0" y="185.2" width="7.2" height="7.2" rx="2.5"/><rect x="348.8" y="182.4" width="7.2" height="7.2" rx="2.5"/><rect x="353.6" y="202.4" width="7.2" height="7.2" rx="2.5"/><rect x="358.4" y="204.3" width="7.2" height="7.2" rx="2.5"/><rect x="363.3" y="195.2" width="7.2" height="7.2" rx="2.5"/><rect x="368.1" y="200.0" width="7.2" height="7.2" rx="2.5"/><rect x="372.9" y="203.1" width="7.2" height="7.2" rx="2.5"/><rect x="377.7" y="210.6" width="7.2" height="7.2" rx="2.5"/><rect x="382.6" y="193.4" width="7.2" height="7.2" rx="2.5"/><rect x="387.4" y="188.4" width="7.2" height="7.2" rx="2.5"/><rect x="392.2" y="191.4" width="7.2" height="7.2" rx="2.5"/><rect x="397.0" y="209.7" width="7.2" height="7.2" rx="2.5"/><rect x="401.9" y="191.4" width="7.2" height="7.2" rx="2.5"/><rect x="406.7" y="200.0" width="7.2" height="7.2" rx="2.5"/><rect x="411.5" y="208.9" width="7.2" height="7.2" rx="2.5"/><rect x="416.3" y="209.9" width="7.2" height="7.2" rx="2.5"/><rect x="421.2" y="206.9" width="7.2" height="7.2" rx="2.5"/><rect x="426.0" y="205.9" width="7.2" height="7.2" rx="2.5"/><rect x="430.8" y="210.4" width="7.2" height="7.2" rx="2.5"/><rect x="435.7" y="207.9" width="7.2" height="7.2" rx="2.5"/><rect x="440.5" y="208.0" width="7.2" height="7.2" rx="2.5"/><rect x="445.3" y="196.1" width="7.2" height="7.2" rx="2.5"/><rect x="450.1" y="200.9" width="7.2" height="7.2" rx="2.5"/><rect x="455.0" y="204.6" width="7.2" height="7.2" rx="2.5"/><rect x="459.8" y="202.2" width="7.2" height="7.2" rx="2.5"/><rect x="464.6" y="193.1" width="7.2" height="7.2" rx="2.5"/><rect x="469.4" y="198.4" width="7.2" height="7.2" rx="2.5"/><rect x="474.3" y="201.4" width="7.2" height="7.2" rx="2.5"/><rect x="479.1" y="199.1" width="7.2" height="7.2" rx="2.5"/><rect x="483.9" y="186.4" width="7.2" height="7.2" rx="2.5"/><rect x="488.7" y="194.9" width="7.2" height="7.2" rx="2.5"/><rect x="493.6" y="198.4" width="7.2" height="7.2" rx="2.5"/><rect x="498.4" y="191.2" width="7.2" height="7.2" rx="2.5"/><rect x="503.2" y="198.4" width="7.2" height="7.2" rx="2.5"/><rect x="508.0" y="200.4" width="7.2" height="7.2" rx="2.5"/><rect x="512.9" y="204.0" width="7.2" height="7.2" rx="2.5"/><rect x="517.7" y="197.4" width="7.2" height="7.2" rx="2.5"/><rect x="522.5" y="203.4" width="7.2" height="7.2" rx="2.5"/><rect x="527.3" y="209.4" width="7.2" height="7.2" rx="2.5"/><rect x="532.2" y="197.9" width="7.2" height="7.2" rx="2.5"/><rect x="537.0" y="200.4" width="7.2" height="7.2" rx="2.5"/><rect x="541.8" y="205.6" width="7.2" height="7.2" rx="2.5"/><rect x="546.7" y="208.1" width="7.2" height="7.2" rx="2.5"/><rect x="551.5" y="206.9" width="7.2" height="7.2" rx="2.5"/><rect x="556.3" y="206.2" width="7.2" height="7.2" rx="2.5"/><rect x="561.1" y="183.7" width="7.2" height="7.2" rx="2.5"/><rect x="566.0" y="214.1" width="7.2" height="7.2" rx="2.5"/><rect x="570.8" y="215.9" width="7.2" height="7.2" rx="2.5"/><rect x="575.6" y="214.7" width="7.2" height="7.2" rx="2.5"/><rect x="580.4" y="212.4" width="7.2" height="7.2" rx="2.5"/><rect x="585.3" y="215.4" width="7.2" height="7.2" rx="2.5"/><rect x="590.1" y="203.2" width="7.2" height="7.2" rx="2.5"/><rect x="594.9" y="204.4" width="7.2" height="7.2" rx="2.5"/><rect x="599.7" y="197.8" width="7.2" height="7.2" rx="2.5"/><rect x="604.6" y="201.4" width="7.2" height="7.2" rx="2.5"/><rect x="609.4" y="201.8" width="7.2" height="7.2" rx="2.5"/><rect x="614.2" y="192.4" width="7.2" height="7.2" rx="2.5"/><rect x="619.0" y="176.6" width="7.2" height="7.2" rx="2.5"/><rect x="623.9" y="190.8" width="7.2" height="7.2" rx="2.5"/><rect x="628.7" y="199.4" width="7.2" height="7.2" rx="2.5"/><rect x="633.5" y="196.1" width="7.2" height="7.2" rx="2.5"/><rect x="638.3" y="191.2" width="7.2" height="7.2" rx="2.5"/><rect x="643.2" y="203.4" width="7.2" height="7.2" rx="2.5"/><rect x="648.0" y="203.4" width="7.2" height="7.2" rx="2.5"/></g>
<g fill="none" stroke="#d90b55" stroke-width="2.1"><circle cx="58.0" cy="284.6" r="2.45"/><circle cx="62.8" cy="226.6" r="2.45"/><circle cx="67.7" cy="257.8" r="2.45"/><circle cx="72.5" cy="295.1" r="2.45"/><circle cx="77.3" cy="285.4" r="2.45"/><circle cx="82.1" cy="222.3" r="2.45"/><circle cx="87.0" cy="266.8" r="2.45"/><circle cx="91.8" cy="311.0" r="2.45"/><circle cx="96.6" cy="305.3" r="2.45"/><circle cx="101.4" cy="230.2" r="2.45"/><circle cx="106.3" cy="272.2" r="2.45"/><circle cx="111.1" cy="301.3" r="2.45"/><circle cx="115.9" cy="290.8" r="2.45"/><circle cx="120.7" cy="225.2" r="2.45"/><circle cx="125.6" cy="266.8" r="2.45"/><circle cx="130.4" cy="298.8" r="2.45"/><circle cx="135.2" cy="269.0" r="2.45"/><circle cx="140.0" cy="217.9" r="2.45"/><circle cx="144.9" cy="256.3" r="2.45"/><circle cx="149.7" cy="270.0" r="2.45"/><circle cx="154.5" cy="286.0" r="2.45"/><circle cx="159.3" cy="207.6" r="2.45"/><circle cx="164.2" cy="236.1" r="2.45"/><circle cx="169.0" cy="251.9" r="2.45"/><circle cx="173.8" cy="267.9" r="2.45"/><circle cx="178.6" cy="174.0" r="2.45"/><circle cx="183.5" cy="254.0" r="2.45"/><circle cx="188.3" cy="294.4" r="2.45"/><circle cx="193.1" cy="269.3" r="2.45"/><circle cx="198.0" cy="236.4" r="2.45"/><circle cx="202.8" cy="281.5" r="2.45"/><circle cx="207.6" cy="303.4" r="2.45"/><circle cx="212.4" cy="286.4" r="2.45"/><circle cx="217.3" cy="236.9" r="2.45"/><circle cx="222.1" cy="289.3" r="2.45"/><circle cx="226.9" cy="320.3" r="2.45"/><circle cx="231.7" cy="275.2" r="2.45"/><circle cx="236.6" cy="225.9" r="2.45"/><circle cx="241.4" cy="279.8" r="2.45"/><circle cx="246.2" cy="316.4" r="2.45"/><circle cx="251.0" cy="287.2" r="2.45"/><circle cx="255.9" cy="237.4" r="2.45"/><circle cx="260.7" cy="276.4" r="2.45"/><circle cx="265.5" cy="299.2" r="2.45"/><circle cx="270.3" cy="264.3" r="2.45"/><circle cx="275.2" cy="222.3" r="2.45"/><circle cx="280.0" cy="267.9" r="2.45"/><circle cx="284.8" cy="305.3" r="2.45"/><circle cx="289.6" cy="285.4" r="2.45"/><circle cx="294.5" cy="197.6" r="2.45"/><circle cx="299.3" cy="241.2" r="2.45"/><circle cx="304.1" cy="256.0" r="2.45"/><circle cx="309.0" cy="270.5" r="2.45"/><circle cx="313.8" cy="220.9" r="2.45"/><circle cx="318.6" cy="261.0" r="2.45"/><circle cx="323.4" cy="296.1" r="2.45"/><circle cx="328.3" cy="272.7" r="2.45"/><circle cx="333.1" cy="249.8" r="2.45"/><circle cx="337.9" cy="290.8" r="2.45"/><circle cx="342.7" cy="321.2" r="2.45"/><circle cx="347.6" cy="275.1" r="2.45"/><circle cx="352.4" cy="259.2" r="2.45"/><circle cx="357.2" cy="297.0" r="2.45"/><circle cx="362.0" cy="324.8" r="2.45"/><circle cx="366.9" cy="293.0" r="2.45"/><circle cx="371.7" cy="248.3" r="2.45"/><circle cx="376.5" cy="273.4" r="2.45"/><circle cx="381.3" cy="313.2" r="2.45"/><circle cx="386.2" cy="286.8" r="2.45"/><circle cx="391.0" cy="230.2" r="2.45"/><circle cx="395.8" cy="249.2" r="2.45"/><circle cx="400.6" cy="312.2" r="2.45"/><circle cx="405.5" cy="276.1" r="2.45"/><circle cx="410.3" cy="217.4" r="2.45"/><circle cx="415.1" cy="261.0" r="2.45"/><circle cx="419.9" cy="306.0" r="2.45"/><circle cx="424.8" cy="268.3" r="2.45"/><circle cx="429.6" cy="207.3" r="2.45"/><circle cx="434.4" cy="240.3" r="2.45"/><circle cx="439.3" cy="262.0" r="2.45"/><circle cx="444.1" cy="266.1" r="2.45"/><circle cx="448.9" cy="216.2" r="2.45"/><circle cx="453.7" cy="243.0" r="2.45"/><circle cx="458.6" cy="304.2" r="2.45"/><circle cx="463.4" cy="276.3" r="2.45"/><circle cx="468.2" cy="261.3" r="2.45"/><circle cx="473.0" cy="265.0" r="2.45"/><circle cx="477.9" cy="288.7" r="2.45"/><circle cx="482.7" cy="272.3" r="2.45"/><circle cx="487.5" cy="254.8" r="2.45"/><circle cx="492.3" cy="274.0" r="2.45"/><circle cx="497.2" cy="320.8" r="2.45"/><circle cx="502.0" cy="290.3" r="2.45"/><circle cx="506.8" cy="246.1" r="2.45"/><circle cx="511.6" cy="266.0" r="2.45"/><circle cx="516.5" cy="310.0" r="2.45"/><circle cx="521.3" cy="290.0" r="2.45"/><circle cx="526.1" cy="251.2" r="2.45"/><circle cx="530.9" cy="252.3" r="2.45"/><circle cx="535.8" cy="320.2" r="2.45"/><circle cx="540.6" cy="277.0" r="2.45"/><circle cx="545.4" cy="238.2" r="2.45"/><circle cx="550.3" cy="269.8" r="2.45"/><circle cx="555.1" cy="316.1" r="2.45"/><circle cx="559.9" cy="290.3" r="2.45"/><circle cx="564.7" cy="226.9" r="2.45"/><circle cx="569.6" cy="229.1" r="2.45"/><circle cx="574.4" cy="273.2" r="2.45"/><circle cx="579.2" cy="262.0" r="2.45"/><circle cx="584.0" cy="192.9" r="2.45"/><circle cx="588.9" cy="246.1" r="2.45"/><circle cx="593.7" cy="313.2" r="2.45"/><circle cx="598.5" cy="273.5" r="2.45"/><circle cx="603.3" cy="245.5" r="2.45"/><circle cx="608.2" cy="271.3" r="2.45"/><circle cx="613.0" cy="313.2" r="2.45"/><circle cx="617.8" cy="306.7" r="2.45"/><circle cx="622.6" cy="268.6" r="2.45"/><circle cx="627.5" cy="286.0" r="2.45"/><circle cx="632.3" cy="316.1" r="2.45"/><circle cx="637.1" cy="275.6" r="2.45"/><circle cx="641.9" cy="241.0" r="2.45"/><circle cx="646.8" cy="272.6" r="2.45"/><circle cx="651.6" cy="295.1" r="2.45"/><circle cx="656.4" cy="399.4" r="2.45"/><path stroke-width="2.1" d="M52.8,287.6H63.2M58.0,282.4V292.8M54.9,284.5L61.1,290.7M54.9,290.7L61.1,284.5M57.6,226.6H68.0M62.8,221.4V231.8M59.7,223.5L65.9,229.7M59.7,229.7L65.9,223.5M62.5,260.8H72.9M67.7,255.6V266.0M64.6,257.7L70.8,263.9M64.6,263.9L70.8,257.7M67.3,296.6H77.7M72.5,291.4V301.8M69.4,293.5L75.6,299.7M69.4,299.7L75.6,293.5M72.1,286.9H82.5M77.3,281.7V292.1M74.2,283.8L80.4,290.0M74.2,290.0L80.4,283.8M76.9,225.3H87.3M82.1,220.1V230.5M79.0,222.2L85.2,228.4M79.0,228.4L85.2,222.2M81.8,268.3H92.2M87.0,263.1V273.5M83.9,265.2L90.1,271.4M83.9,271.4L90.1,265.2M86.6,312.5H97.0M91.8,307.3V317.7M88.7,309.4L94.9,315.6M88.7,315.6L94.9,309.4M91.4,306.8H101.8M96.6,301.6V312.0M93.5,303.7L99.7,309.9M93.5,309.9L99.7,303.7M96.2,238.2H106.6M101.4,233.0V243.4M98.3,235.1L104.5,241.3M98.3,241.3L104.5,235.1M101.1,272.2H111.5M106.3,267.0V277.4M103.2,269.1L109.4,275.3M103.2,275.3L109.4,269.1M105.9,302.8H116.3M111.1,297.6V308.0M108.0,299.7L114.2,305.9M108.0,305.9L114.2,299.7M110.7,292.3H121.1M115.9,287.1V297.5M112.8,289.2L119.0,295.4M112.8,295.4L119.0,289.2M115.5,228.2H125.9M120.7,223.0V233.4M117.6,225.1L123.8,231.3M117.6,231.3L123.8,225.1M120.4,268.3H130.8M125.6,263.1V273.5M122.5,265.2L128.7,271.4M122.5,271.4L128.7,265.2M125.2,301.8H135.6M130.4,296.6V307.0M127.3,298.7L133.5,304.9M127.3,304.9L133.5,298.7M130.0,270.5H140.4M135.2,265.3V275.7M132.1,267.4L138.3,273.6M132.1,273.6L138.3,267.4M134.8,220.9H145.2M140.0,215.7V226.1M136.9,217.8L143.1,224.0M136.9,224.0L143.1,217.8M139.7,256.3H150.1M144.9,251.1V261.5M141.8,253.2L148.0,259.4M141.8,259.4L148.0,253.2M144.5,270.0H154.9M149.7,264.8V275.2M146.6,266.9L152.8,273.1M146.6,273.1L152.8,266.9M149.3,287.5H159.7M154.5,282.3V292.7M151.4,284.4L157.6,290.6M151.4,290.6L157.6,284.4M154.1,209.1H164.5M159.3,203.9V214.3M156.2,206.0L162.4,212.2M156.2,212.2L162.4,206.0M159.0,239.1H169.4M164.2,233.9V244.3M161.1,236.0L167.3,242.2M161.1,242.2L167.3,236.0M163.8,254.9H174.2M169.0,249.7V260.1M165.9,251.8L172.1,258.0M165.9,258.0L172.1,251.8M168.6,270.9H179.0M173.8,265.7V276.1M170.7,267.8L176.9,274.0M170.7,274.0L176.9,267.8M173.4,174.0H183.8M178.6,168.8V179.2M175.5,170.9L181.7,177.1M175.5,177.1L181.7,170.9M178.3,254.0H188.7M183.5,248.8V259.2M180.4,250.9L186.6,257.1M180.4,257.1L186.6,250.9M183.1,295.9H193.5M188.3,290.7V301.1M185.2,292.8L191.4,299.0M185.2,299.0L191.4,292.8M187.9,269.3H198.3M193.1,264.1V274.5M190.0,266.2L196.2,272.4M190.0,272.4L196.2,266.2M192.8,239.4H203.2M198.0,234.2V244.6M194.9,236.3L201.1,242.5M194.9,242.5L201.1,236.3M197.6,281.5H208.0M202.8,276.3V286.7M199.7,278.4L205.9,284.6M199.7,284.6L205.9,278.4M202.4,303.4H212.8M207.6,298.2V308.6M204.5,300.3L210.7,306.5M204.5,306.5L210.7,300.3M207.2,287.9H217.6M212.4,282.7V293.1M209.3,284.8L215.5,291.0M209.3,291.0L215.5,284.8M212.1,238.4H222.5M217.3,233.2V243.6M214.2,235.3L220.4,241.5M214.2,241.5L220.4,235.3M216.9,289.3H227.3M222.1,284.1V294.5M219.0,286.2L225.2,292.4M219.0,292.4L225.2,286.2M221.7,320.3H232.1M226.9,315.1V325.5M223.8,317.2L230.0,323.4M223.8,323.4L230.0,317.2M226.5,275.2H236.9M231.7,270.0V280.4M228.6,272.1L234.8,278.3M228.6,278.3L234.8,272.1M231.4,225.9H241.8M236.6,220.7V231.1M233.5,222.8L239.7,229.0M233.5,229.0L239.7,222.8M236.2,279.8H246.6M241.4,274.6V285.0M238.3,276.7L244.5,282.9M238.3,282.9L244.5,276.7M241.0,317.9H251.4M246.2,312.7V323.1M243.1,314.8L249.3,321.0M243.1,321.0L249.3,314.8M245.8,288.7H256.2M251.0,283.5V293.9M247.9,285.6L254.1,291.8M247.9,291.8L254.1,285.6M250.7,237.4H261.1M255.9,232.2V242.6M252.8,234.3L259.0,240.5M252.8,240.5L259.0,234.3M255.5,276.4H265.9M260.7,271.2V281.6M257.6,273.3L263.8,279.5M257.6,279.5L263.8,273.3M260.3,300.7H270.7M265.5,295.5V305.9M262.4,297.6L268.6,303.8M262.4,303.8L268.6,297.6M265.1,267.3H275.5M270.3,262.1V272.5M267.2,264.2L273.4,270.4M267.2,270.4L273.4,264.2M270.0,225.3H280.4M275.2,220.1V230.5M272.1,222.2L278.3,228.4M272.1,228.4L278.3,222.2M274.8,270.9H285.2M280.0,265.7V276.1M276.9,267.8L283.1,274.0M276.9,274.0L283.1,267.8M279.6,306.8H290.0M284.8,301.6V312.0M281.7,303.7L287.9,309.9M281.7,309.9L287.9,303.7M284.4,286.9H294.8M289.6,281.7V292.1M286.5,283.8L292.7,290.0M286.5,290.0L292.7,283.8M289.3,199.1H299.7M294.5,193.9V204.3M291.4,196.0L297.6,202.2M291.4,202.2L297.6,196.0M294.1,242.7H304.5M299.3,237.5V247.9M296.2,239.6L302.4,245.8M296.2,245.8L302.4,239.6M298.9,259.0H309.3M304.1,253.8V264.2M301.0,255.9L307.2,262.1M301.0,262.1L307.2,255.9M303.8,272.0H314.2M309.0,266.8V277.2M305.9,268.9L312.1,275.1M305.9,275.1L312.1,268.9M308.6,223.9H319.0M313.8,218.7V229.1M310.7,220.8L316.9,227.0M310.7,227.0L316.9,220.8M313.4,262.5H323.8M318.6,257.3V267.7M315.5,259.4L321.7,265.6M315.5,265.6L321.7,259.4M318.2,296.1H328.6M323.4,290.9V301.3M320.3,293.0L326.5,299.2M320.3,299.2L326.5,293.0M323.1,275.7H333.5M328.3,270.5V280.9M325.2,272.6L331.4,278.8M325.2,278.8L331.4,272.6M327.9,252.8H338.3M333.1,247.6V258.0M330.0,249.7L336.2,255.9M330.0,255.9L336.2,249.7M332.7,292.3H343.1M337.9,287.1V297.5M334.8,289.2L341.0,295.4M334.8,295.4L341.0,289.2M337.5,322.7H347.9M342.7,317.5V327.9M339.6,319.6L345.8,325.8M339.6,325.8L345.8,319.6M342.4,276.6H352.8M347.6,271.4V281.8M344.5,273.5L350.7,279.7M344.5,279.7L350.7,273.5M347.2,260.7H357.6M352.4,255.5V265.9M349.3,257.6L355.5,263.8M349.3,263.8L355.5,257.6M352.0,298.5H362.4M357.2,293.3V303.7M354.1,295.4L360.3,301.6M354.1,301.6L360.3,295.4M356.8,326.3H367.2M362.0,321.1V331.5M358.9,323.2L365.1,329.4M358.9,329.4L365.1,323.2M361.7,294.5H372.1M366.9,289.3V299.7M363.8,291.4L370.0,297.6M363.8,297.6L370.0,291.4M366.5,249.8H376.9M371.7,244.6V255.0M368.6,246.7L374.8,252.9M368.6,252.9L374.8,246.7M371.3,274.9H381.7M376.5,269.7V280.1M373.4,271.8L379.6,278.0M373.4,278.0L379.6,271.8M376.1,314.7H386.5M381.3,309.5V319.9M378.2,311.6L384.4,317.8M378.2,317.8L384.4,311.6M381.0,289.8H391.4M386.2,284.6V295.0M383.1,286.7L389.3,292.9M383.1,292.9L389.3,286.7M385.8,233.8H396.2M391.0,228.6V239.0M387.9,230.7L394.1,236.9M387.9,236.9L394.1,230.7M390.6,250.7H401.0M395.8,245.5V255.9M392.7,247.6L398.9,253.8M392.7,253.8L398.9,247.6M395.4,313.7H405.8M400.6,308.5V318.9M397.5,310.6L403.7,316.8M397.5,316.8L403.7,310.6M400.3,276.1H410.7M405.5,270.9V281.3M402.4,273.0L408.6,279.2M402.4,279.2L408.6,273.0M405.1,217.4H415.5M410.3,212.2V222.6M407.2,214.3L413.4,220.5M407.2,220.5L413.4,214.3M409.9,262.5H420.3M415.1,257.3V267.7M412.0,259.4L418.2,265.6M412.0,265.6L418.2,259.4M414.8,309.0H425.1M419.9,303.8V314.2M416.8,305.9L423.1,312.1M416.8,312.1L423.1,305.9M419.6,269.8H430.0M424.8,264.6V275.0M421.7,266.7L427.9,272.9M421.7,272.9L427.9,266.7M424.4,208.8H434.8M429.6,203.6V214.0M426.5,205.7L432.7,211.9M426.5,211.9L432.7,205.7M429.2,245.4H439.6M434.4,240.2V250.6M431.3,242.3L437.5,248.5M431.3,248.5L437.5,242.3M434.1,266.4H444.5M439.3,261.2V271.6M436.2,263.3L442.4,269.5M436.2,269.5L442.4,263.3M438.9,267.6H449.3M444.1,262.4V272.8M441.0,264.5L447.2,270.7M441.0,270.7L447.2,264.5M443.7,217.7H454.1M448.9,212.5V222.9M445.8,214.6L452.0,220.8M445.8,220.8L452.0,214.6M448.5,246.0H458.9M453.7,240.8V251.2M450.6,242.9L456.8,249.1M450.6,249.1L456.8,242.9M453.4,305.7H463.8M458.6,300.5V310.9M455.5,302.6L461.7,308.8M455.5,308.8L461.7,302.6M458.2,279.3H468.6M463.4,274.1V284.5M460.3,276.2L466.5,282.4M460.3,282.4L466.5,276.2M463.0,261.3H473.4M468.2,256.1V266.5M465.1,258.2L471.3,264.4M465.1,264.4L471.3,258.2M467.8,265.0H478.2M473.0,259.8V270.2M469.9,261.9L476.1,268.1M469.9,268.1L476.1,261.9M472.7,291.7H483.1M477.9,286.5V296.9M474.8,288.6L481.0,294.8M474.8,294.8L481.0,288.6M477.5,275.3H487.9M482.7,270.1V280.5M479.6,272.2L485.8,278.4M479.6,278.4L485.8,272.2M482.3,254.8H492.7M487.5,249.6V260.0M484.4,251.7L490.6,257.9M484.4,257.9L490.6,251.7M487.1,275.5H497.5M492.3,270.3V280.7M489.2,272.4L495.4,278.6M489.2,278.6L495.4,272.4M492.0,323.8H502.4M497.2,318.6V329.0M494.1,320.7L500.3,326.9M494.1,326.9L500.3,320.7M496.8,290.3H507.2M502.0,285.1V295.5M498.9,287.2L505.1,293.4M498.9,293.4L505.1,287.2M501.6,246.1H512.0M506.8,240.9V251.3M503.7,243.0L509.9,249.2M503.7,249.2L509.9,243.0M506.4,266.0H516.8M511.6,260.8V271.2M508.5,262.9L514.7,269.1M508.5,269.1L514.7,262.9M511.3,311.5H521.7M516.5,306.3V316.7M513.4,308.4L519.6,314.6M513.4,314.6L519.6,308.4M516.1,291.5H526.5M521.3,286.3V296.7M518.2,288.4L524.4,294.6M518.2,294.6L524.4,288.4M520.9,251.2H531.3M526.1,246.0V256.4M523.0,248.1L529.2,254.3M523.0,254.3L529.2,248.1M525.7,252.3H536.1M530.9,247.1V257.5M527.8,249.2L534.0,255.4M527.8,255.4L534.0,249.2M530.6,321.7H541.0M535.8,316.5V326.9M532.7,318.6L538.9,324.8M532.7,324.8L538.9,318.6M535.4,278.5H545.8M540.6,273.3V283.7M537.5,275.4L543.7,281.6M537.5,281.6L543.7,275.4M540.2,238.2H550.6M545.4,233.0V243.4M542.3,235.1L548.5,241.3M542.3,241.3L548.5,235.1M545.1,271.3H555.5M550.3,266.1V276.5M547.2,268.2L553.4,274.4M547.2,274.4L553.4,268.2M549.9,317.6H560.3M555.1,312.4V322.8M552.0,314.5L558.2,320.7M552.0,320.7L558.2,314.5M554.7,290.3H565.1M559.9,285.1V295.5M556.8,287.2L563.0,293.4M556.8,293.4L563.0,287.2M559.5,226.9H569.9M564.7,221.7V232.1M561.6,223.8L567.8,230.0M561.6,230.0L567.8,223.8M564.4,232.1H574.8M569.6,226.9V237.3M566.5,229.0L572.7,235.2M566.5,235.2L572.7,229.0M569.2,274.7H579.6M574.4,269.5V279.9M571.3,271.6L577.5,277.8M571.3,277.8L577.5,271.6M574.0,262.0H584.4M579.2,256.8V267.2M576.1,258.9L582.3,265.1M576.1,265.1L582.3,258.9M578.8,192.9H589.2M584.0,187.7V198.1M580.9,189.8L587.1,196.0M580.9,196.0L587.1,189.8M583.7,246.1H594.1M588.9,240.9V251.3M585.8,243.0L592.0,249.2M585.8,249.2L592.0,243.0M588.5,314.7H598.9M593.7,309.5V319.9M590.6,311.6L596.8,317.8M590.6,317.8L596.8,311.6M593.3,276.5H603.7M598.5,271.3V281.7M595.4,273.4L601.6,279.6M595.4,279.6L601.6,273.4M598.1,248.5H608.5M603.3,243.3V253.7M600.2,245.4L606.4,251.6M600.2,251.6L606.4,245.4M603.0,271.3H613.4M608.2,266.1V276.5M605.1,268.2L611.3,274.4M605.1,274.4L611.3,268.2M607.8,314.7H618.2M613.0,309.5V319.9M609.9,311.6L616.1,317.8M609.9,317.8L616.1,311.6M612.6,308.2H623.0M617.8,303.0V313.4M614.7,305.1L620.9,311.3M614.7,311.3L620.9,305.1M617.4,271.6H627.8M622.6,266.4V276.8M619.5,268.5L625.7,274.7M619.5,274.7L625.7,268.5M622.3,287.5H632.7M627.5,282.3V292.7M624.4,284.4L630.6,290.6M624.4,290.6L630.6,284.4M627.1,317.6H637.5M632.3,312.4V322.8M629.2,314.5L635.4,320.7M629.2,320.7L635.4,314.5M631.9,275.6H642.3M637.1,270.4V280.8M634.0,272.5L640.2,278.7M634.0,278.7L640.2,272.5M636.7,241.0H647.1M641.9,235.8V246.2M638.8,237.9L645.0,244.1M638.8,244.1L645.0,237.9M641.6,272.6H652.0M646.8,267.4V277.8M643.7,269.5L649.9,275.7M643.7,275.7L649.9,269.5M646.4,296.6H656.8M651.6,291.4V301.8M648.5,293.5L654.7,299.7M648.5,299.7L654.7,293.5M651.2,399.4H661.6M656.4,394.2V404.6M653.3,396.3L659.5,402.5M653.3,402.5L659.5,396.3"/><path stroke="none" fill="#d90b55" d="M54.7,287.6L58.0,284.3L61.3,287.6L58.0,290.9ZM57.8,226.6L62.8,221.6L67.8,226.6L62.8,231.6ZM64.4,260.8L67.7,257.5L71.0,260.8L67.7,264.1ZM69.2,296.6L72.5,293.3L75.8,296.6L72.5,299.9ZM74.0,286.9L77.3,283.6L80.6,286.9L77.3,290.2ZM78.8,225.3L82.1,222.0L85.4,225.3L82.1,228.6ZM83.7,268.3L87.0,265.0L90.3,268.3L87.0,271.6ZM88.5,312.5L91.8,309.2L95.1,312.5L91.8,315.8ZM93.3,306.8L96.6,303.5L99.9,306.8L96.6,310.1ZM101.3,272.2L106.3,267.2L111.3,272.2L106.3,277.2ZM107.8,302.8L111.1,299.5L114.4,302.8L111.1,306.1ZM112.6,292.3L115.9,289.0L119.2,292.3L115.9,295.6ZM117.4,228.2L120.7,224.9L124.0,228.2L120.7,231.5ZM122.3,268.3L125.6,265.0L128.9,268.3L125.6,271.6ZM127.1,301.8L130.4,298.5L133.7,301.8L130.4,305.1ZM131.9,270.5L135.2,267.2L138.5,270.5L135.2,273.8ZM136.7,220.9L140.0,217.6L143.3,220.9L140.0,224.2ZM139.9,256.3L144.9,251.3L149.9,256.3L144.9,261.3ZM144.7,270.0L149.7,265.0L154.7,270.0L149.7,275.0ZM151.2,287.5L154.5,284.2L157.8,287.5L154.5,290.8ZM156.0,209.1L159.3,205.8L162.6,209.1L159.3,212.4ZM160.9,239.1L164.2,235.8L167.5,239.1L164.2,242.4ZM165.7,254.9L169.0,251.6L172.3,254.9L169.0,258.2ZM170.5,270.9L173.8,267.6L177.1,270.9L173.8,274.2ZM173.6,174.0L178.6,169.0L183.6,174.0L178.6,179.0ZM178.5,254.0L183.5,249.0L188.5,254.0L183.5,259.0ZM185.0,295.9L188.3,292.6L191.6,295.9L188.3,299.2ZM188.1,269.3L193.1,264.3L198.1,269.3L193.1,274.3ZM194.7,239.4L198.0,236.1L201.3,239.4L198.0,242.7ZM197.8,281.5L202.8,276.5L207.8,281.5L202.8,286.5ZM202.6,303.4L207.6,298.4L212.6,303.4L207.6,308.4ZM209.1,287.9L212.4,284.6L215.7,287.9L212.4,291.2ZM214.0,238.4L217.3,235.1L220.6,238.4L217.3,241.7ZM217.1,289.3L222.1,284.3L227.1,289.3L222.1,294.3ZM221.9,320.3L226.9,315.3L231.9,320.3L226.9,325.3ZM226.7,275.2L231.7,270.2L236.7,275.2L231.7,280.2ZM231.6,225.9L236.6,220.9L241.6,225.9L236.6,230.9ZM236.4,279.8L241.4,274.8L246.4,279.8L241.4,284.8ZM242.9,317.9L246.2,314.6L249.5,317.9L246.2,321.2ZM247.7,288.7L251.0,285.4L254.3,288.7L251.0,292.0ZM250.9,237.4L255.9,232.4L260.9,237.4L255.9,242.4ZM255.7,276.4L260.7,271.4L265.7,276.4L260.7,281.4ZM262.2,300.7L265.5,297.4L268.8,300.7L265.5,304.0ZM267.0,267.3L270.3,264.0L273.6,267.3L270.3,270.6ZM271.9,225.3L275.2,222.0L278.5,225.3L275.2,228.6ZM276.7,270.9L280.0,267.6L283.3,270.9L280.0,274.2ZM281.5,306.8L284.8,303.5L288.1,306.8L284.8,310.1ZM286.3,286.9L289.6,283.6L292.9,286.9L289.6,290.2ZM291.2,199.1L294.5,195.8L297.8,199.1L294.5,202.4ZM296.0,242.7L299.3,239.4L302.6,242.7L299.3,246.0ZM300.8,259.0L304.1,255.7L307.4,259.0L304.1,262.3ZM305.7,272.0L309.0,268.7L312.3,272.0L309.0,275.3ZM310.5,223.9L313.8,220.6L317.1,223.9L313.8,227.2ZM315.3,262.5L318.6,259.2L321.9,262.5L318.6,265.8ZM318.4,296.1L323.4,291.1L328.4,296.1L323.4,301.1ZM325.0,275.7L328.3,272.4L331.6,275.7L328.3,279.0ZM329.8,252.8L333.1,249.5L336.4,252.8L333.1,256.1ZM334.6,292.3L337.9,289.0L341.2,292.3L337.9,295.6ZM339.4,322.7L342.7,319.4L346.0,322.7L342.7,326.0ZM344.3,276.6L347.6,273.3L350.9,276.6L347.6,279.9ZM349.1,260.7L352.4,257.4L355.7,260.7L352.4,264.0ZM353.9,298.5L357.2,295.2L360.5,298.5L357.2,301.8ZM358.7,326.3L362.0,323.0L365.3,326.3L362.0,329.6ZM363.6,294.5L366.9,291.2L370.2,294.5L366.9,297.8ZM368.4,249.8L371.7,246.5L375.0,249.8L371.7,253.1ZM373.2,274.9L376.5,271.6L379.8,274.9L376.5,278.2ZM378.0,314.7L381.3,311.4L384.6,314.7L381.3,318.0ZM382.9,289.8L386.2,286.5L389.5,289.8L386.2,293.1ZM392.5,250.7L395.8,247.4L399.1,250.7L395.8,254.0ZM397.3,313.7L400.6,310.4L403.9,313.7L400.6,317.0ZM400.5,276.1L405.5,271.1L410.5,276.1L405.5,281.1ZM405.3,217.4L410.3,212.4L415.3,217.4L410.3,222.4ZM411.8,262.5L415.1,259.2L418.4,262.5L415.1,265.8ZM416.6,309.0L419.9,305.7L423.2,309.0L419.9,312.3ZM421.5,269.8L424.8,266.5L428.1,269.8L424.8,273.1ZM426.3,208.8L429.6,205.5L432.9,208.8L429.6,212.1ZM440.8,267.6L444.1,264.3L447.4,267.6L444.1,270.9ZM445.6,217.7L448.9,214.4L452.2,217.7L448.9,221.0ZM450.4,246.0L453.7,242.7L457.0,246.0L453.7,249.3ZM455.3,305.7L458.6,302.4L461.9,305.7L458.6,309.0ZM460.1,279.3L463.4,276.0L466.7,279.3L463.4,282.6ZM463.2,261.3L468.2,256.3L473.2,261.3L468.2,266.3ZM468.0,265.0L473.0,260.0L478.0,265.0L473.0,270.0ZM474.6,291.7L477.9,288.4L481.2,291.7L477.9,295.0ZM479.4,275.3L482.7,272.0L486.0,275.3L482.7,278.6ZM482.5,254.8L487.5,249.8L492.5,254.8L487.5,259.8ZM489.0,275.5L492.3,272.2L495.6,275.5L492.3,278.8ZM493.9,323.8L497.2,320.5L500.5,323.8L497.2,327.1ZM497.0,290.3L502.0,285.3L507.0,290.3L502.0,295.3ZM501.8,246.1L506.8,241.1L511.8,246.1L506.8,251.1ZM506.6,266.0L511.6,261.0L516.6,266.0L511.6,271.0ZM513.2,311.5L516.5,308.2L519.8,311.5L516.5,314.8ZM518.0,291.5L521.3,288.2L524.6,291.5L521.3,294.8ZM521.1,251.2L526.1,246.2L531.1,251.2L526.1,256.2ZM525.9,252.3L530.9,247.3L535.9,252.3L530.9,257.3ZM532.5,321.7L535.8,318.4L539.1,321.7L535.8,325.0ZM537.3,278.5L540.6,275.2L543.9,278.5L540.6,281.8ZM540.4,238.2L545.4,233.2L550.4,238.2L545.4,243.2ZM547.0,271.3L550.3,268.0L553.6,271.3L550.3,274.6ZM551.8,317.6L555.1,314.3L558.4,317.6L555.1,320.9ZM554.9,290.3L559.9,285.3L564.9,290.3L559.9,295.3ZM559.7,226.9L564.7,221.9L569.7,226.9L564.7,231.9ZM566.3,232.1L569.6,228.8L572.9,232.1L569.6,235.4ZM571.1,274.7L574.4,271.4L577.7,274.7L574.4,278.0ZM574.2,262.0L579.2,257.0L584.2,262.0L579.2,267.0ZM579.0,192.9L584.0,187.9L589.0,192.9L584.0,197.9ZM583.9,246.1L588.9,241.1L593.9,246.1L588.9,251.1ZM590.4,314.7L593.7,311.4L597.0,314.7L593.7,318.0ZM595.2,276.5L598.5,273.2L601.8,276.5L598.5,279.8ZM600.0,248.5L603.3,245.2L606.6,248.5L603.3,251.8ZM603.2,271.3L608.2,266.3L613.2,271.3L608.2,276.3ZM609.7,314.7L613.0,311.4L616.3,314.7L613.0,318.0ZM614.5,308.2L617.8,304.9L621.1,308.2L617.8,311.5ZM619.3,271.6L622.6,268.3L625.9,271.6L622.6,274.9ZM624.2,287.5L627.5,284.2L630.8,287.5L627.5,290.8ZM629.0,317.6L632.3,314.3L635.6,317.6L632.3,320.9ZM632.1,275.6L637.1,270.6L642.1,275.6L637.1,280.6ZM636.9,241.0L641.9,236.0L646.9,241.0L641.9,246.0ZM641.8,272.6L646.8,267.6L651.8,272.6L646.8,277.6ZM648.3,296.6L651.6,293.3L654.9,296.6L651.6,299.9ZM651.4,399.4L656.4,394.4L661.4,399.4L656.4,404.4Z"/></g>
<g stroke-width="2.6"><line x1="397.4" y1="89.4" x2="427.5" y2="89.4" stroke="#000"/><line x1="397.4" y1="109.5" x2="427.5" y2="109.5" stroke="#008080"/></g>
<circle cx="412.6" cy="89.3" r="3.8" fill="#000"/><rect x="408.9" y="105.8" width="7.4" height="7.4" rx="2.6" fill="#008080"/>
<text x="430" y="96" class="b">rmse grand pr = 3.4627</text>
<text x="430" y="116.1" class="b">totalspread grand pr = 3.5401</text>
<text x="356.8" y="41.6" text-anchor="middle" font-weight="bold" class="k" style="font-size:16.15px">Northern Hemisphere 145353 / 146837 = 98.989%</text>
<text y="61.4" font-weight="bold" class="k"><tspan x="184.3" textLength="158.4" lengthAdjust="spacingAndGlyphs">AIRCRAFT_V_WIND_</tspan><tspan x="342.7" textLength="105" lengthAdjust="spacingAndGlyphs">COMPONENT</tspan> <tspan x="453.1" textLength="13.2" lengthAdjust="spacingAndGlyphs">@</tspan> <tspan x="469.8">200 hPa</tspan></text>
<text x="52.8" y="76.1" text-anchor="end" class="d">6</text>
<text x="52.8" y="130.9" text-anchor="end" class="d">5</text>
<text x="52.8" y="185.8" text-anchor="end" class="d">4</text>
<text x="52.8" y="240.6" text-anchor="end" class="d">3</text>
<text x="52.8" y="295.4" text-anchor="end" class="d">2</text>
<text x="52.8" y="350.3" text-anchor="end" class="d">1</text>
<text x="52.8" y="405.1" text-anchor="end" class="d">0</text>
<text x="678.8" y="76.1" text-anchor="middle" class="p">3000</text>
<text x="678.8" y="130.9" text-anchor="middle" class="p">2500</text>
<text x="678.8" y="185.8" text-anchor="middle" class="p">2000</text>
<text x="678.8" y="240.6" text-anchor="middle" class="p">1500</text>
<text x="678.8" y="295.4" text-anchor="middle" class="p">1000</text>
<text x="678.8" y="350.3" text-anchor="middle" class="p">500</text>
<text x="678.8" y="405.1" text-anchor="middle" class="p">0</text>
<text x="96.9" y="419.6" text-anchor="middle" class="d">08/03</text>
<text x="193.4" y="419.6" text-anchor="middle" class="d">08/08</text>
<text x="289.9" y="419.6" text-anchor="middle" class="d">08/13</text>
<text x="386.3" y="419.6" text-anchor="middle" class="d">08/18</text>
<text x="482.8" y="419.6" text-anchor="middle" class="d">08/23</text>
<text x="579.2" y="419.6" text-anchor="middle" class="d">08/28</text>
<text x="356.9" y="440.9" text-anchor="middle" class="d" style="font-size:16.05px">Aug.01,2016 00:00:00 start</text>
<text transform="translate(37.6,234.5) rotate(-90)" text-anchor="middle" class="d" style="font-size:16.2px">rmse and totalspread</text>
<text transform="translate(716.7,234.5) rotate(-90)" text-anchor="middle" class="p" style="font-size:16.1px"># of obs: o=possible; <tspan style="font-size:10px">∗</tspan>=assimilated</text>
<text x="146.3" y="458.2" style="font-size:8px;stroke-width:.15px" class="k">data file: /Users/raeder/DAI/ATM_forcXX/CAM6_setup/f.e21.FHIST_BGC.f09_025.CAM6assim.011/Diags_NTrS_2016-08/obs_diag_output.nc</text>
</svg>
</body></html>
